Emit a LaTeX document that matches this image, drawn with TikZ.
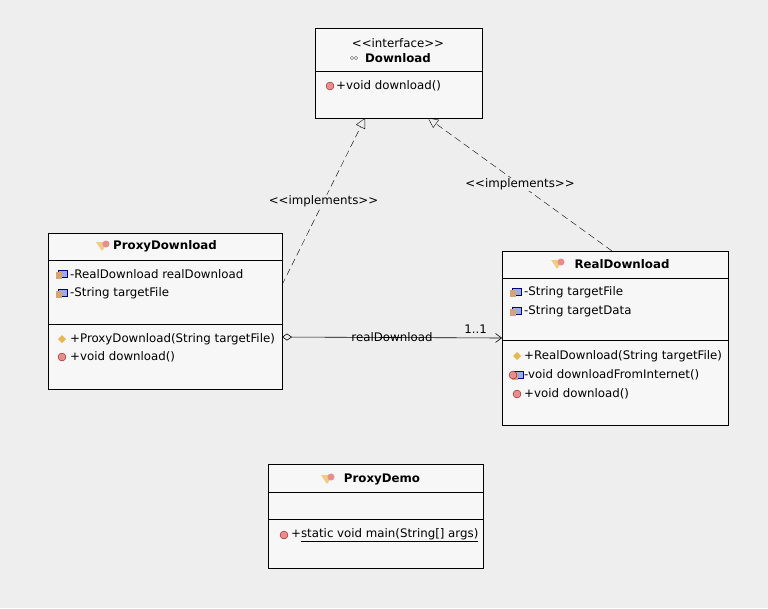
\documentclass[tikz,border=0pt]{standalone}
\usepackage{fontspec}
\setmainfont{DejaVu Sans}
\usetikzlibrary{arrows.meta,calc}
\definecolor{bgcol}{HTML}{EEEEEE}
\definecolor{boxcol}{HTML}{F7F7F7}
\definecolor{opred}{HTML}{E88C8C}
\definecolor{cgold}{HTML}{E8B84C}
\tikzset{
  umlbox/.style={draw, fill=boxcol, line width=0.8pt, inner sep=0pt, anchor=north west},
  member/.style={anchor=west, font=\fontsize{11.8}{14}\selectfont, inner sep=0pt},
  title/.style={font=\fontsize{11.8}{14}\selectfont\bfseries, inner sep=0pt},
  realize/.style={dashed, dash pattern=on 7pt off 4pt, -{Triangle[open, length=10pt, width=10pt]}},
  lbl/.style={fill=bgcol, inner sep=1pt, font=\fontsize{11.8}{14}\selectfont},
}
\newcommand{\opicon}[1]{\fill[opred, draw=red!50!black, line width=0.3pt] (#1) circle (4pt);}
\newcommand{\ctoricon}[1]{\fill[cgold] ($(#1)+(-4pt,0)$) -- ++(4pt,-4pt) -- ++(4pt,4pt) -- ++(-4pt,4pt) -- cycle;}
\newcommand{\fieldicon}[1]{\fill[cyan!40!blue!40, draw=blue!50!black, line width=0.3pt] ($(#1)+(-2pt,-3pt)$) rectangle ++(9pt,7pt);
  \fill[brown!70] ($(#1)+(-4pt,-5pt)$) rectangle ++(6pt,7pt);}
\newcommand{\classicon}[1]{\fill[cgold!70] ($(#1)+(-6pt,4pt)$) -- ++(6pt,-9pt) -- ++(6pt,9pt) -- cycle;
  \fill[opred] ($(#1)+(4pt,2pt)$) circle (3.5pt);}
\begin{document}
\begin{tikzpicture}[x=1pt, y=-1pt]
        % background
        \fill[bgcol] (0,0) rectangle (768,608);
        \useasboundingbox (0,0) rectangle (768,608);

        % interface Download
        \node[umlbox, minimum width=167pt, minimum height=90pt] (download) at (315,28) {};
        \draw[line width=0.6pt] (315,71) -- (482,71);
        \node[inner sep=0pt, font=\fontsize{11.8}{14}\selectfont] (dstereo) at (398,43) {<{}<interface>{}>};
        \node[title] (dname) at (398,58) {Download};
        \draw[gray, line width=0.5pt] (352,58) circle (1.7pt) (356,58) circle (1.7pt);
        \opicon{330,86}
        \node[member] (dop) at (336,86) {+void download()};

        % class ProxyDownload
        \node[umlbox, minimum width=234pt, minimum height=156pt] (proxy) at (48,233) {};
        \draw[line width=0.6pt] (48,260) -- (282,260);
        \draw[line width=0.6pt] (48,324) -- (282,324);
        \classicon{102,246}
        \node[title] (pname) at (165,246) {ProxyDownload};
        \fieldicon{60,274}
        \node[member] (pa1) at (70,274) {-RealDownload realDownload};
        \fieldicon{60,293}
        \node[member] (pa2) at (70,293) {-String targetFile};
        \ctoricon{62,339}
        \node[member] (pm1) at (70,339) {+ProxyDownload(String targetFile)};
        \opicon{62,357}
        \node[member] (pm2) at (70,357) {+void download()};

        % class RealDownload
        \node[umlbox, minimum width=226pt, minimum height=174pt] (real) at (502,251) {};
        \draw[line width=0.6pt] (502,278) -- (728,278);
        \draw[line width=0.6pt] (502,340) -- (728,340);
        \classicon{557,264}
        \node[title] (rname) at (622,264) {RealDownload};
        \fieldicon{514,292}
        \node[member] (ra1) at (524,292) {-String targetFile};
        \fieldicon{514,311}
        \node[member] (ra2) at (524,311) {-String targetData};
        \ctoricon{517,356}
        \node[member] (rm1) at (524,356) {+RealDownload(String targetFile)};
        \fieldicon{516,375}
        \opicon{513,375}
        \node[member] (rm2) at (524,375) {-void downloadFromInternet()};
        \opicon{517,394}
        \node[member] (rm3) at (524,394) {+void download()};

        % class ProxyDemo
        \node[umlbox, minimum width=215pt, minimum height=104pt] (demo) at (268,464) {};
        \draw[line width=0.6pt] (268,492) -- (483,492);
        \draw[line width=0.6pt] (268,519) -- (483,519);
        \classicon{327,479}
        \node[title] (dmname) at (382,479) {ProxyDemo};
        \opicon{284,535}
        \node[member] (dmm) at (291,535) {+\underline{static void main(String[] args)}};

        % connector ends
        \coordinate (pup) at (282,285);
        \coordinate (dl) at (365,118);
        \coordinate (rup) at (612,251);
        \coordinate (dr) at (428,118);
        \coordinate (pagg) at (282,337);
        \coordinate (ragg) at (502,338);

        % realizations
        \draw[realize] (pup) -- (dl) node[lbl, pos=0.5] {<{}<implements>{}>};
        \draw[realize] (rup) -- (dr) node[lbl, pos=0.5] {<{}<implements>{}>};

        % aggregation
        \draw[{Diamond[open, length=10pt, width=7pt]}-{Straight Barb[length=6pt, width=9pt]}, line width=0.6pt] (pagg) -- (ragg)
          node[pos=0.5, font=\fontsize{11.8}{14}\selectfont, inner sep=0pt] {realDownload}
          node[pos=0.88, above=4pt, font=\fontsize{11.8}{14}\selectfont, inner sep=0pt] {1..1};
\end{tikzpicture}
\end{document}
